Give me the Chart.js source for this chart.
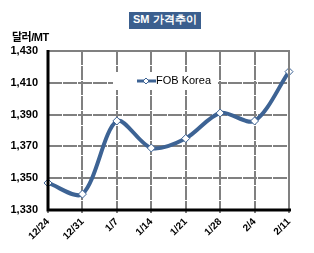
<!DOCTYPE html>
<html>
<head>
<meta charset="utf-8">
<script src="https://cdn.jsdelivr.net/npm/chart.js@4"></script>
<style>
  body { margin: 0; background: #fff; }
  #wrap { position: relative; width: 314px; height: 253px; }
  #title {
    position: absolute; left: 129px; top: 12px; height: 17px; line-height: 17px;
    padding: 0 4px; background: #3b5f8e; color: #fff;
    font: bold 11px "Liberation Sans", Arial, sans-serif;
  }
  #unit {
    position: absolute; left: 12px; top: 28px;
    font: bold 11px "Liberation Sans", "Noto Sans CJK KR", sans-serif; color: #000;
    letter-spacing: -0.5px;
  }
</style>
</head>
<body>
<div id="wrap">
  <canvas id="myChart" width="314" height="253"></canvas>
  <div id="title">SM 가격추이</div>
  <div id="unit">달러/MT</div>
</div>
<script>
// data
const labels = ["12/24", "12/31", "1/7", "1/14", "1/21", "1/28", "2/4", "2/11"];
const fobKorea = [1347, 1340, 1386, 1369, 1375, 1391, 1386, 1417];
const yTicks = [1330, 1350, 1370, 1390, 1410, 1430];

const lineColor = '#3d6394';

// legend drawn inside the plot area, on a white box over the grid
const insideLegend = {
  id: 'insideLegend',
  beforeDatasetsDraw(chart) {
    const ctx = chart.ctx;
    const x = 137, y = 81;
    ctx.save();
    ctx.fillStyle = '#fff';
    ctx.fillRect(113, 72, 105, 18);
    ctx.strokeStyle = lineColor;
    ctx.lineWidth = 3;
    ctx.beginPath();
    ctx.moveTo(x, y);
    ctx.lineTo(x + 19, y);
    ctx.stroke();
    ctx.fillStyle = '#fff';
    ctx.lineWidth = 1;
    ctx.beginPath();
    ctx.moveTo(x + 9, y - 3);
    ctx.lineTo(x + 12, y);
    ctx.lineTo(x + 9, y + 3);
    ctx.lineTo(x + 6, y);
    ctx.closePath();
    ctx.fill();
    ctx.stroke();
    ctx.fillStyle = '#000';
    ctx.font = '11px "Liberation Sans", Arial, sans-serif';
    ctx.textBaseline = 'middle';
    ctx.fillText(chart.data.datasets[0].label, x + 19, y);
    ctx.restore();
  }
};

// plot frame: black left/bottom, grey top/right
const frame = {
  id: 'frame',
  afterDatasetsDraw(chart) {
    const a = chart.chartArea, ctx = chart.ctx;
    ctx.save();
    ctx.strokeStyle = '#808080';
    ctx.lineWidth = 2;
    ctx.beginPath();
    ctx.moveTo(a.left, a.top);
    ctx.lineTo(a.right, a.top);
    ctx.lineTo(a.right, a.bottom);
    ctx.stroke();
    ctx.strokeStyle = '#000';
    ctx.lineWidth = 3;
    ctx.beginPath();
    ctx.moveTo(a.left, a.top - 1);
    ctx.lineTo(a.left, a.bottom);
    ctx.lineTo(a.right + 2, a.bottom);
    ctx.stroke();
    ctx.restore();
  }
};

new Chart("myChart", {
  type: 'line',
  data: {
    labels: labels,
    datasets: [
      {
        label: 'FOB Korea',
        data: fobKorea,
        borderColor: lineColor,
        borderWidth: 4,
        tension: 0.3,
        pointStyle: 'rectRot',
        pointRadius: 4,
        pointBackgroundColor: '#fff',
        pointBorderColor: lineColor,
        pointBorderWidth: 1,
        clip: false,
      },
    ],
  },
  options: {
    responsive: false,
    animation: false,
    layout: { padding: { top: 51, right: 25, bottom: 0, left: 0 } },
    plugins: { legend: { display: false }, tooltip: { enabled: false } },
    scales: {
      x: {
        type: 'category',
        offset: false,
        grid: { color: '#808080', lineWidth: 2, drawTicks: true, tickLength: 3 },
        border: { display: false, dash: [14, 1] },
        ticks: {
          color: '#000',
          maxRotation: 45, minRotation: 45,
          font: { family: '"Liberation Sans", Arial, sans-serif', size: 10, weight: 'bold' },
          padding: 3,
        },
        afterFit(scale) { scale.height = 43; },
      },
      y: {
        min: 1330, max: 1430,
        afterBuildTicks(scale) { scale.ticks = yTicks.map(v => ({ value: v })); },
        grid: { color: '#808080', lineWidth: 2, drawTicks: false },
        border: { display: false, dash: [14, 1] },
        ticks: {
          color: '#000',
          padding: 10,
          font: { family: '"Liberation Sans", Arial, sans-serif', size: 11, weight: 'bold' },
          callback: (v) => v.toLocaleString('en-US'),
        },
        afterFit(scale) { scale.width = 48; },
      },
    },
  },
  plugins: [insideLegend, frame],
});
</script>
</body>
</html>
